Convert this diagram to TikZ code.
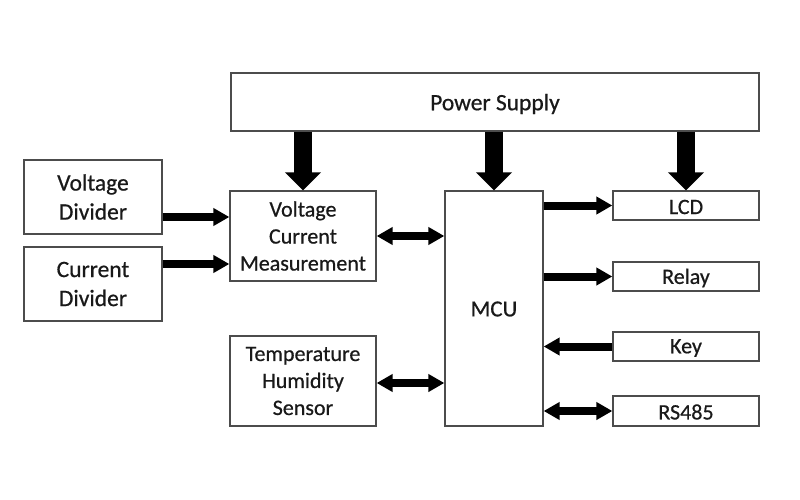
\documentclass[tikz,border=0pt]{standalone}
\usepackage{fontspec}
\setmainfont{Carlito}[FakeBold=0.6]
\usetikzlibrary{arrows.meta}
\begin{document}
\begin{tikzpicture}[x=1pt,y=-1pt,
  blk/.style={draw=black!70, line width=1.3pt, fill=white, inner sep=0pt, align=center, text=black!90},
  bigtxt/.style={font=\fontsize{23.5}{29}\selectfont},
  smtxt/.style={font=\fontsize{22}{27}\selectfont},
  vpow/.style={line width=18pt, -{Triangle[length=18pt 0 0,width=35pt 0 0]}},
  harr/.style={line width=8pt, -{Triangle[length=16pt 0 0,width=17pt 0 0]}},
  hdbl/.style={line width=8pt, {Triangle[length=16pt 0 0,width=17pt 0 0]}-{Triangle[length=16pt 0 0,width=17pt 0 0]}}
]
\useasboundingbox (0,0) rectangle (800,500);
\fill[white] (0,0) rectangle (800,500);

\node[blk,minimum width=528pt,minimum height=58pt] (ps) at (495,102) {};
\node[bigtxt,text=black!90] (pst) at (495,104) {Power Supply};
\node[blk,bigtxt,minimum width=138pt,minimum height=74pt] (vd) at (93,197) {Voltage\\Divider};
\node[blk,bigtxt,minimum width=138pt,minimum height=74pt] (cd) at (93,284) {Current\\Divider};
\node[blk,smtxt,minimum width=146pt,minimum height=90pt] (vcm) at (303,236) {Voltage\\Current\\Measurement};
\node[blk,smtxt,minimum width=146pt,minimum height=90pt] (ths) at (303,381) {Temperature\\Humidity\\Sensor};
\node[blk,minimum width=98pt,minimum height=235pt] (mcu) at (494,308.5) {};
\node[font=\fontsize{23}{27}\selectfont,text=black!90] (mcut) at (494,309) {MCU};
\node[blk,minimum width=146pt,minimum height=29pt] (lcd) at (686,205.5) {};
\node[blk,minimum width=146pt,minimum height=29pt] (relay) at (686,276.5) {};
\node[blk,minimum width=146pt,minimum height=29pt] (key) at (686,346.5) {};
\node[blk,minimum width=146pt,minimum height=30pt] (rs) at (686,411) {};
\node[smtxt,text=black!90] (lcdt) at (686,207) {LCD};
\node[smtxt,text=black!90] (relayt) at (686,278) {Relay};
\node[smtxt,text=black!90] (keyt) at (686,348) {Key};
\node[smtxt,text=black!90] (rst) at (686,412) {RS485};

% power arrows
\draw[vpow] (ps.south -| vcm.north) -- (vcm.north);
\draw[vpow] (ps.south -| mcu.north) -- (mcu.north);
\draw[vpow] (ps.south -| lcd.north) -- (lcd.north);

% inputs
\coordinate (vdy) at (0,217);
\coordinate (cdy) at (0,264);
\draw[harr] (vd.east |- vdy) -- (vcm.west |- vdy);
\draw[harr] (cd.east |- cdy) -- (vcm.west |- cdy);

% bidirectional to MCU
\draw[hdbl] (vcm.east) -- (mcu.west |- vcm.east);
\coordinate (thy) at (0,383);
\draw[hdbl] (ths.east |- thy) -- (mcu.west |- thy);

% right side
\draw[harr] (mcu.east |- lcd.west) -- (lcd.west);
\draw[harr] (mcu.east |- relay.west) -- (relay.west);
\draw[harr] (key.west) -- (mcu.east |- key.west);
\draw[hdbl] (mcu.east |- rs.west) -- (rs.west);
\end{tikzpicture}
\end{document}
